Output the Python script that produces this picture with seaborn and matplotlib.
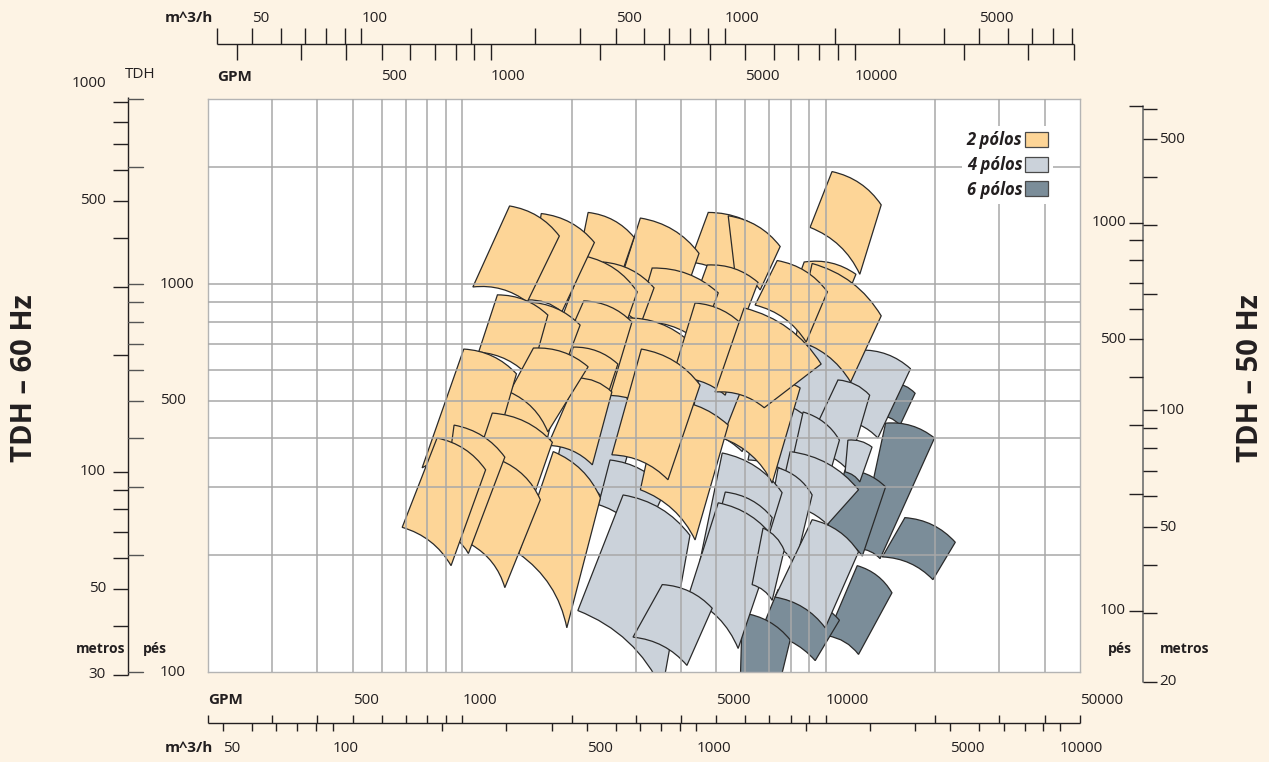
import numpy as np
import matplotlib
matplotlib.use("Agg")
import matplotlib.pyplot as plt
import seaborn as sns
from matplotlib.path import Path
from matplotlib.patches import PathPatch, Patch
from matplotlib.ticker import NullLocator
from matplotlib.transforms import IdentityTransform, blended_transform_factory

# operating ranges, corners (GPM, ft @ 60 Hz): top-left, top-right, bottom-right, bottom-left
tiles_6p = [
    [(15300, 556), (17600, 523), (16000, 433), (13900, 460)],
    [(14600, 438), (19900, 401), (14100, 196), (12300, 208)],
    [(11300, 332), (14600, 300), (12600, 199), (10000, 229)],
    [(16500, 250), (22700, 216), (19700, 173), (14300, 198)],
    [(12200, 188), (15200, 160), (12300, 111), (10100, 124)],
    [(7390, 163), (10900, 136), (9350, 107), (6600, 126)],
    [(5890, 142), (7980, 121), (7390, 90), (5810, 90)],
]
tiles_4p = [
    [(8500, 697), (12600, 594), (10800, 396), (7730, 446)],
    [(12400, 676), (17100, 605), (13900, 401), (10900, 446)],
    [(6600, 503), (9050, 446), (8230, 313), (6110, 352)],
    [(10800, 566), (13200, 517), (11500, 332), (8770, 374)],
    [(8660, 468), (10900, 396), (9960, 295), (7980, 332)],
    [(11500, 396), (13400, 380), (12400, 309), (11300, 328)],
    [(7980, 370), (12300, 295), (10100, 240), (7390, 270)],
    [(7390, 336), (9170, 286), (8230, 188), (6810, 219)],
    [(9170, 247), (12300, 204), (9960, 130), (7250, 156)],
    [(4510, 601), (6600, 517), (5890, 370), (4230, 421)],
    [(2050, 566), (3090, 474), (2580, 262), (1800, 332)],
    [(2550, 352), (3620, 295), (3130, 219), (2370, 270)],
    [(5190, 367), (7580, 290), (6270, 163), (4510, 194)],
    [(5290, 291), (7120, 250), (6190, 153), (4660, 183)],
    [(5060, 273), (7250, 219), (5740, 115), (4180, 156)],
    [(6720, 235), (7680, 206), (7120, 153), (6270, 168)],
    [(2770, 286), (4230, 225), (3550, 90), (2080, 144)],
    [(3550, 168), (4870, 146), (4150, 104), (2950, 123)],
]
tiles_2p = [
    [(10400, 1950), (14200, 1600), (12400, 1060), (9050, 1400)],
    [(8720, 1140), (12100, 1060), (10800, 818), (7980, 910)],
    [(9170, 1130), (14200, 828), (11700, 559), (8230, 718)],
    [(7350, 1150), (10100, 955), (8830, 709), (6390, 883)],
    [(4750, 1530), (7030, 1320), (6040, 955), (4230, 1140)],
    [(5390, 1500), (7490, 1250), (6600, 966), (5630, 1060)],
    [(4720, 1120), (6510, 1010), (5740, 740), (4180, 818)],
    [(3090, 1480), (4480, 1200), (3850, 798), (2620, 910)],
    [(3330, 1100), (5060, 949), (4510, 709), (3010, 798)],
    [(2220, 1530), (2970, 1320), (2580, 899), (2010, 966)],
    [(2440, 1140), (3370, 978), (3090, 784), (2370, 883)],
    [(2180, 1180), (3030, 955), (2630, 656), (1860, 798)],
    [(1650, 1520), (2310, 1280), (1880, 848), (1510, 910)],
    [(1350, 1590), (1850, 1330), (1510, 899), (1070, 983)],
    [(2810, 818), (4230, 709), (3680, 446), (2470, 517)],
    [(4370, 894), (6000, 771), (5290, 517), (3780, 573)],
    [(6000, 566), (8500, 540), (7120, 307), (5190, 401)],
    [(3500, 503), (5390, 433), (4370, 219), (3090, 295)],
    [(5960, 868), (9710, 622), (6770, 480), (4960, 527)],
    [(2160, 905), (2930, 798), (2550, 517), (1780, 601)],
    [(1510, 899), (2110, 784), (1860, 573), (1430, 637)],
    [(1250, 938), (1720, 832), (1540, 573), (1110, 668)],
    [(3110, 680), (4510, 549), (3680, 313), (2580, 363)],
    [(2020, 688), (2680, 622), (2460, 488), (1860, 527)],
    [(1270, 527), (1800, 488), (1640, 332), (1160, 384)],
    [(2070, 573), (2580, 527), (2280, 342), (1720, 384)],
    [(1570, 684), (2220, 612), (1720, 416), (1350, 527)],
    [(1010, 680), (1410, 587), (1210, 356), (776, 336)],
    [(1210, 465), (1770, 391), (1560, 278), (1050, 313)],
    [(1780, 370), (2400, 281), (1940, 130), (1430, 202)],
    [(1270, 352), (1640, 278), (1310, 165), (1060, 213)],
    [(950, 433), (1310, 358), (1040, 202), (869, 232)],
    [(853, 401), (1160, 332), (932, 188), (684, 236)],
]
series_labels = ["2 pólos", "4 pólos", "6 pólos"]

grid_gpm = [300, 400, 500, 600, 700, 800, 900, 1000, 2000, 3000, 4000, 5000,
            6000, 7000, 8000, 9000, 10000, 20000, 30000, 40000]
grid_ft = [200, 300, 400, 500, 600, 700, 800, 900, 1000, 2000]

gpm_ticks_bottom = [200] + grid_gpm + [50000]
gpm_labels_bottom = [500, 1000, 5000, 10000, 50000]
m3h_ticks_bottom = [50, 60, 70, 80, 90, 100, 200, 300, 400, 500, 600, 700, 800, 900,
                    1000, 2000, 3000, 4000, 5000, 6000, 7000, 8000, 9000, 10000]
m3h_labels_bottom = [50, 100, 500, 1000, 5000, 10000]

gpm_ticks_top = [200] + grid_gpm
gpm_labels_top = [500, 1000, 5000, 10000]
m3h_ticks_top = [40] + m3h_ticks_bottom[:-1]
m3h_labels_top = [50, 100, 500, 1000, 5000]

ft_ticks_60 = [100] + grid_ft + [3000]
ft_labels_60 = [100, 500, 1000]
m_ticks_60 = [30, 40, 50, 60, 70, 80, 90, 100, 200, 300, 400, 500, 600, 700, 800, 900]
m_labels_60 = [30, 50, 100, 500, 1000]

ft_ticks_50 = [100] + grid_ft
ft_labels_50 = [100, 500, 1000]
m_ticks_50 = [20, 30, 40, 50, 60, 70, 80, 90, 100, 200, 300, 400, 500, 600]
m_labels_50 = [20, 50, 100, 500]

GPM_PER_M3H = 4.4029
FT_PER_M = 3.2808
Q_RATIO = 1.2    # 60 Hz / 50 Hz flow
H_RATIO = 1.44   # 60 Hz / 50 Hz head

BG = "#fdf3e4"
INK = "#231f20"
GRID = "#a8a8a8"
colors = {"2 pólos": "#fdd597", "4 pólos": "#cbd2da", "6 pólos": "#7b8d99"}
EDGE = "#2a2a2a"

sns.set_theme(style="white")
plt.rcParams["font.family"] = ["Open Sans", "DejaVu Sans"]
plt.rcParams["text.color"] = INK

W, H = 1269, 762
fig = plt.figure(figsize=(W / 100, H / 100), dpi=100, facecolor=BG)
ax = fig.add_axes([208 / W, 90 / H, 872 / W, 573 / H])
ax.set_xscale("log")
ax.set_yscale("log")
ax.set_xlim(200, 50000)
ax.set_ylim(100, 3000)
ax.set_autoscale_on(False)
ax.set_facecolor("white")
ax.set_xticks(grid_gpm)
ax.set_yticks(grid_ft)
ax.xaxis.set_minor_locator(NullLocator())
ax.yaxis.set_minor_locator(NullLocator())
ax.tick_params(which="both", length=0, labelbottom=False, labelleft=False)
ax.grid(True, color=GRID, lw=1.1)
ax.set_axisbelow(False)
for s in ax.spines.values():
    s.set_color("#b4b4b4")
    s.set_linewidth(1.0)


def tile_patch(corners, color, bend=0.2):
    tl, tr, br, bl = ax.transData.transform(np.array(corners, dtype=float))

    def ctrl(p, q):
        d = q - p
        return (p + q) / 2 + bend * np.array([-d[1], d[0]])

    verts = [tl, ctrl(tl, tr), tr, br, ctrl(bl, br), bl, tl]
    codes = [Path.MOVETO, Path.CURVE3, Path.CURVE3, Path.LINETO,
             Path.CURVE3, Path.CURVE3, Path.CLOSEPOLY]
    p = PathPatch(Path(verts, codes), facecolor=color, edgecolor=EDGE,
                  lw=0.9, zorder=1)
    p.set_transform(IdentityTransform())
    ax.add_patch(p)


for name, tiles in [("6 pólos", tiles_6p), ("4 pólos", tiles_4p), ("2 pólos", tiles_2p)]:
    for t in tiles:
        tile_patch(t, colors[name])

handles = [Patch(facecolor=colors[n], edgecolor="#4a4a4a", lw=0.9) for n in series_labels]
ax.legend(handles, series_labels, loc="upper right", bbox_to_anchor=(0.979, 0.967),
          markerfirst=False, frameon=True, facecolor="white", edgecolor="none",
          framealpha=1, fancybox=False, handlelength=1.4, handleheight=1.0,
          handletextpad=0.15, labelspacing=0.4, borderpad=0.3,
          prop=dict(weight="bold", style="italic", size=12))

# outer scales
px, py = 1 / 872, 1 / 573
bx = blended_transform_factory(ax.transData, ax.transAxes)
by = blended_transform_factory(ax.transAxes, ax.transData)
line_kw = dict(color=INK, lw=1.0, clip_on=False, solid_capstyle="butt")
num_kw = dict(fontsize=11, clip_on=False)
bold_kw = dict(fontsize=11, weight="bold", clip_on=False)

# bottom: GPM up, m3/h down
yb = -51 * py
ax.plot([gpm_ticks_bottom[0], gpm_ticks_bottom[-1]], [yb, yb], transform=bx, **line_kw)
for g in gpm_ticks_bottom:
    ax.plot([g, g], [yb, yb + 8 * py], transform=bx, **line_kw)
for m in m3h_ticks_bottom:
    q = m * GPM_PER_M3H
    ax.plot([q, q], [yb, yb - 8 * py], transform=bx, **line_kw)
for g in gpm_labels_bottom:
    ax.text(g, yb + 23 * py, f"{g}", transform=bx, ha="left", va="center", **num_kw)
ax.text(gpm_ticks_bottom[0], yb + 23 * py, "GPM", transform=bx, ha="left", va="center", **bold_kw)
for m in m3h_labels_bottom:
    ax.text(m * GPM_PER_M3H, yb - 25 * py, f"{m}", transform=bx, ha="left", va="center", **num_kw)
ax.text(5 * px, yb - 25 * py, "m^3/h", transform=ax.transAxes, ha="right", va="center", **bold_kw)

# top: 50 Hz flow, m3/h up, GPM down
yt = 1 + 55 * py
q0 = m3h_ticks_top[0] * GPM_PER_M3H * Q_RATIO
q1 = gpm_ticks_top[-1] * Q_RATIO
ax.plot([q0, q1], [yt, yt], transform=bx, **line_kw)
for m in m3h_ticks_top:
    q = m * GPM_PER_M3H * Q_RATIO
    ax.plot([q, q], [yt, yt + 16 * py], transform=bx, **line_kw)
for g in gpm_ticks_top:
    q = g * Q_RATIO
    ax.plot([q, q], [yt, yt - 16 * py], transform=bx, **line_kw)
for m in m3h_labels_top:
    ax.text(m * GPM_PER_M3H * Q_RATIO, yt + 26 * py, f"{m}", transform=bx,
            ha="left", va="center", **num_kw)
for g in gpm_labels_top:
    ax.text(g * Q_RATIO, yt - 33 * py, f"{g}", transform=bx, ha="left", va="center", **num_kw)
ax.text(5 * px, yt + 26 * py, "m^3/h", transform=ax.transAxes, ha="right", va="center", **bold_kw)
ax.text(9 * px, yt - 33 * py, "GPM", transform=ax.transAxes, ha="left", va="center", **bold_kw)

# left: 60 Hz head, metros left, pés right
xl = -80 * px
ax.plot([xl, xl], [m_ticks_60[0] * FT_PER_M, 3040], transform=by, **line_kw)
for m in m_ticks_60:
    h = m * FT_PER_M
    ax.plot([xl - 15 * px, xl], [h, h], transform=by, **line_kw)
for f in ft_ticks_60:
    ax.plot([xl, xl + 15 * px], [f, f], transform=by, color="#555555", lw=1.0, clip_on=False)
for m in m_labels_60:
    ax.text(xl - 22 * px, m * FT_PER_M, f"{m}", transform=by, ha="right", va="center", **num_kw)
for f in ft_labels_60:
    ax.text(xl + 32 * px, f, f"{f}", transform=by, ha="left", va="center", **num_kw)
ax.text(xl - 27 * px, 23 * py, "metros", transform=ax.transAxes, ha="center", va="center",
        fontsize=10, weight="bold")
ax.text(xl + 27 * px, 23 * py, "pés", transform=ax.transAxes, ha="center", va="center",
        fontsize=10, weight="bold")
ax.text(xl + 12 * px, 1 + 24 * py, "TDH", transform=ax.transAxes, ha="center", va="center",
        fontsize=11)

# right: 50 Hz head, pés left, metros right
xr = 1 + 63 * px
ax.plot([xr, xr], [m_ticks_50[0] * FT_PER_M * H_RATIO, ft_ticks_50[-1] * H_RATIO],
        transform=by, color="#6f6f6f", lw=1.2, clip_on=False)
for f in ft_ticks_50:
    h = f * H_RATIO
    ax.plot([xr - 14 * px, xr], [h, h], transform=by, **line_kw)
for m in m_ticks_50:
    h = m * FT_PER_M * H_RATIO
    ax.plot([xr, xr + 14 * px], [h, h], transform=by, **line_kw)
for f in ft_labels_50:
    ax.text(xr - 17 * px, f * H_RATIO, f"{f}", transform=by, ha="right", va="center", **num_kw)
for m in m_labels_50:
    ax.text(xr + 16 * px, m * FT_PER_M * H_RATIO, f"{m}", transform=by,
            ha="left", va="center", **num_kw)
ax.text(xr - 23 * px, 23 * py, "pés", transform=ax.transAxes, ha="center", va="center",
        fontsize=10, weight="bold")
ax.text(xr + 42 * px, 23 * py, "metros", transform=ax.transAxes, ha="center", va="center",
        fontsize=10, weight="bold")

fig.text(25 / W, 1 - 378 / H, "TDH – 60 Hz", rotation=90, ha="center", va="center",
         fontsize=21, weight="bold")
fig.text(1250 / W, 1 - 378 / H, "TDH – 50 Hz", rotation=90, ha="center", va="center",
         fontsize=21, weight="bold")

fig.savefig("out.png", dpi=100, facecolor=BG)
